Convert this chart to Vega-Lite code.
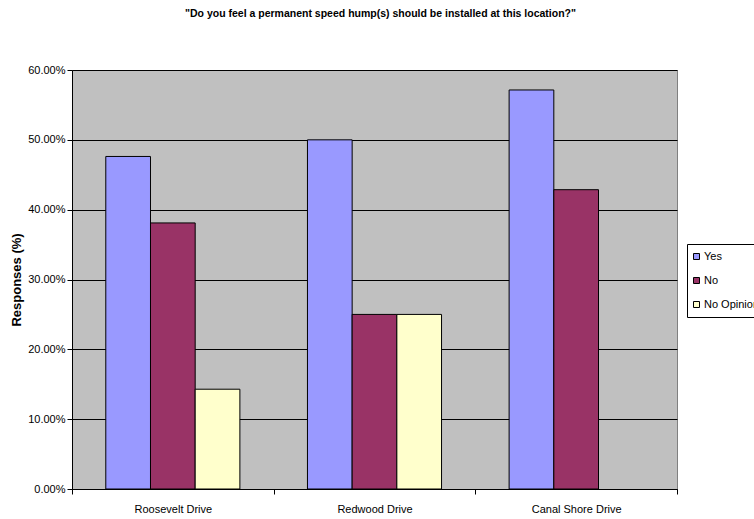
{
  "$schema": "https://vega.github.io/schema/vega-lite/v6.json",
  "width": 605,
  "height": 419,
  "autosize": {"type": "none"},
  "padding": {"left": 72, "top": 70, "right": 77, "bottom": 30},
  "background": "white",
  "title": {
    "text": "\"Do you feel a permanent speed hump(s) should be installed at this location?\"",
    "font": "Liberation Sans",
    "fontSize": 10.5,
    "fontWeight": "bold",
    "color": "black",
    "anchor": "middle",
    "offset": 45,
    "dx": 6
  },
  "data": {
    "values": [
      {"street": "Roosevelt Drive", "response": "Yes", "pct": 0.4762},
      {"street": "Roosevelt Drive", "response": "No", "pct": 0.381},
      {"street": "Roosevelt Drive", "response": "No Opinion", "pct": 0.1429},
      {"street": "Redwood Drive", "response": "Yes", "pct": 0.5},
      {"street": "Redwood Drive", "response": "No", "pct": 0.25},
      {"street": "Redwood Drive", "response": "No Opinion", "pct": 0.25},
      {"street": "Canal Shore Drive", "response": "Yes", "pct": 0.5714},
      {"street": "Canal Shore Drive", "response": "No", "pct": 0.4286}
    ]
  },
  "mark": {"type": "bar", "stroke": "black", "strokeWidth": 1},
  "encoding": {
    "x": {
      "field": "street",
      "type": "nominal",
      "sort": ["Roosevelt Drive", "Redwood Drive", "Canal Shore Drive"],
      "scale": {"paddingInner": 0, "paddingOuter": 0},
      "axis": {
        "title": null,
        "labelAngle": 0,
        "tickBand": "extent",
        "tickSize": 5,
        "labelPadding": 9,
        "domainColor": "black",
        "tickColor": "black",
        "labelFont": "Liberation Sans",
        "labelFontSize": 11,
        "labelColor": "black",
        "grid": false
      }
    },
    "xOffset": {
      "field": "response",
      "type": "nominal",
      "sort": ["Yes", "No", "No Opinion"],
      "scale": {"paddingInner": 0, "paddingOuter": 0.756}
    },
    "y": {
      "field": "pct",
      "type": "quantitative",
      "scale": {"domain": [0, 0.6], "nice": false},
      "axis": {
        "title": "Responses (%)",
        "format": ".2%",
        "values": [0, 0.1, 0.2, 0.3, 0.4, 0.5, 0.6],
        "tickSize": 5,
        "labelPadding": 2,
        "domainColor": "black",
        "tickColor": "black",
        "gridColor": "black",
        "gridOpacity": 1,
        "gridWidth": 1,
        "labelFont": "Liberation Sans",
        "labelFontSize": 11,
        "labelColor": "black",
        "titleFont": "Liberation Sans",
        "titleFontSize": 13,
        "titleFontWeight": "bold",
        "titleColor": "black",
        "titlePadding": 4
      }
    },
    "color": {
      "field": "response",
      "type": "nominal",
      "scale": {"domain": ["Yes", "No", "No Opinion"], "range": ["#9999FF", "#993366", "#FFFFCC"]},
      "legend": {
        "orient": "none",
        "legendX": 615,
        "legendY": 174,
        "title": null,
        "symbolType": "square",
        "symbolSize": 36,
        "symbolStrokeColor": "black",
        "symbolStrokeWidth": 1,
        "labelFont": "Liberation Sans",
        "labelFontSize": 11,
        "labelColor": "black",
        "labelOffset": 2,
        "strokeColor": "black",
        "fillColor": "white",
        "padding": 7,
        "rowPadding": 12,
        "symbolOffset": -3
      }
    }
  },
  "config": {
    "view": {"fill": "#C0C0C0", "stroke": "#808080", "strokeWidth": 1}
  }
}
